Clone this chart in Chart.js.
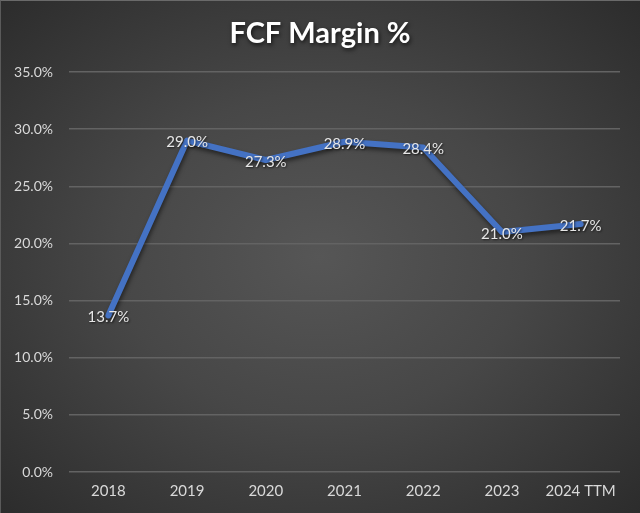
<!DOCTYPE html>
<html>
<head>
<meta charset="utf-8">
<script src="https://cdn.jsdelivr.net/npm/chart.js@4"></script>
<style>
html,body{margin:0;padding:0;}
body{width:640px;height:513px;overflow:hidden;background:radial-gradient(ellipse at 50% 50%, #565656 0%, #474747 45%, #2c2c2c 100%);}
#wrap{position:absolute;left:0;top:0;width:640px;height:513px;box-sizing:border-box;border-top:1px solid #6a6a6a;border-left:1px solid #5a5a5a;}
canvas{display:block;}
</style>
</head>
<body>
<div id="wrap"><canvas id="c" width="640" height="513"></canvas></div>
<script>
const categories = ["2018","2019","2020","2021","2022","2023","2024 TTM"];
const fcfMargin = [13.7, 29.0, 27.3, 28.9, 28.4, 21.0, 21.7];
const yTicks = [0,5,10,15,20,25,30,35];
const chartTitle = "FCF Margin %";

const FONT = "Lato, 'Open Sans', sans-serif";

const titlePlugin = {
  id: 'titleDraw',
  afterDraw(chart){
    const ctx = chart.ctx;
    ctx.save();
    ctx.font = "bold 29px " + FONT;
    ctx.textAlign = 'center';
    ctx.textBaseline = 'middle';
    ctx.shadowColor = 'rgba(0,0,0,0.7)';
    ctx.shadowBlur = 4;
    ctx.shadowOffsetX = 1;
    ctx.shadowOffsetY = 2;
    ctx.fillStyle = '#ffffff';
    ctx.fillText(chartTitle, 319, 33);
    ctx.restore();
  }
};

const labelPlugin = {
  id: 'dataLabels',
  afterDatasetsDraw(chart){
    const ctx = chart.ctx;
    const meta = chart.getDatasetMeta(0);
    ctx.save();
    ctx.font = "15px " + FONT;
    ctx.textAlign = 'center';
    ctx.textBaseline = 'middle';
    ctx.shadowColor = 'rgba(0,0,0,0.6)';
    ctx.shadowBlur = 2;
    ctx.shadowOffsetX = 1;
    ctx.shadowOffsetY = 1;
    ctx.fillStyle = '#e6e6e6';
    meta.data.forEach((pt, i) => {
      ctx.fillText(fcfMargin[i].toFixed(1) + '%', pt.x, pt.y + 2);
    });
    ctx.restore();
  }
};

const shadowPlugin = {
  id: 'lineShadow',
  beforeDatasetsDraw(chart){
    const ctx = chart.ctx;
    ctx.save();
    ctx.shadowColor = 'rgba(0,0,0,0.5)';
    ctx.shadowBlur = 4;
    ctx.shadowOffsetX = 1;
    ctx.shadowOffsetY = 3;
  },
  afterDatasetsDraw(chart){
    chart.ctx.restore();
  }
};

new Chart(document.getElementById('c'), {
  type: 'line',
  data: {
    labels: categories,
    datasets: [{
      data: fcfMargin,
      borderColor: '#4472C4',
      borderWidth: 6,
      pointRadius: 0,
      tension: 0,
      fill: false,
      borderCapStyle: 'round',
      borderJoinStyle: 'round'
    }]
  },
  options: {
    responsive: false,
    animation: false,
    devicePixelRatio: 1,
    layout: { padding: { top: 71, right: 21, left: 0, bottom: 0 } },
    plugins: { legend: { display: false }, title: { display: false }, tooltip: { enabled: false } },
    scales: {
      x: {
        offset: true,
        grid: { display: false, drawTicks: false },
        border: { display: false },
        ticks: { color: '#d9d9d9', font: { family: FONT, size: 15 }, padding: 10, maxRotation: 0, autoSkip: false },
        afterFit(s){ s.height = 42; }
      },
      y: {
        min: 0, max: 35,
        afterBuildTicks(s){ s.ticks = yTicks.map(v => ({ value: v })); },
        grid: { color: '#636363', lineWidth: 1.5, drawTicks: false },
        border: { display: false },
        ticks: { color: '#d9d9d9', font: { family: FONT, size: 14 }, padding: 16, callback: v => v.toFixed(1) + '%' },
        afterFit(s){ s.width = 68; }
      }
    }
  },
  plugins: [shadowPlugin, labelPlugin, titlePlugin]
});
</script>
</body>
</html>
